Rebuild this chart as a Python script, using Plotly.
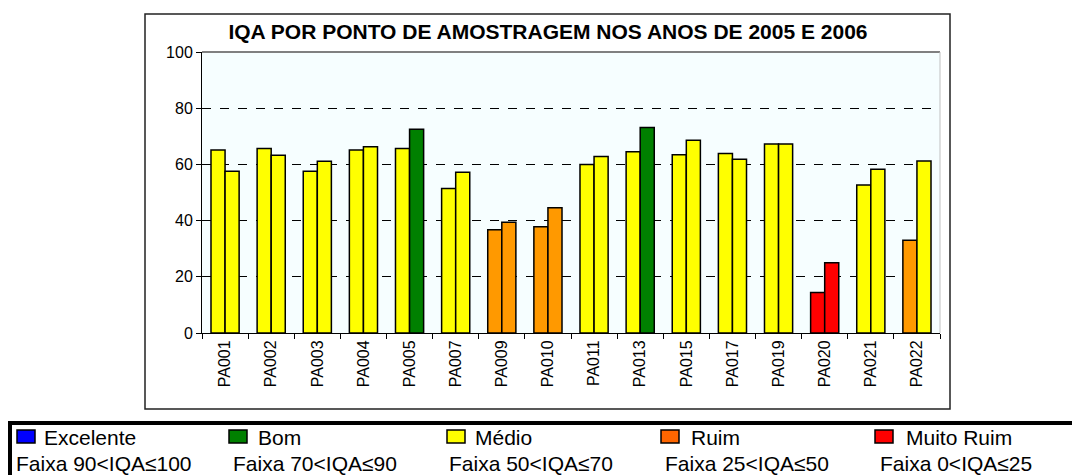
import plotly.graph_objects as go

pontos = ['PA001', 'PA002', 'PA003', 'PA004', 'PA005', 'PA007', 'PA009', 'PA010',
          'PA011', 'PA013', 'PA015', 'PA017', 'PA019', 'PA020', 'PA021', 'PA022']
iqa_2005 = [65.1, 65.7, 57.6, 65.1, 65.7, 51.4, 36.7, 37.8,
            60.0, 64.5, 63.4, 63.9, 67.3, 14.4, 52.7, 33.0]
iqa_2006 = [57.6, 63.3, 61.1, 66.3, 72.5, 57.2, 39.4, 44.6,
            62.8, 73.1, 68.6, 61.8, 67.3, 25.0, 58.3, 61.2]

faixas = ['Excelente', 'Bom', 'Médio', 'Ruim', 'Muito Ruim']
faixas_txt = ['Faixa 90<IQA≤100', 'Faixa 70<IQA≤90', 'Faixa 50<IQA≤70',
              'Faixa 25<IQA≤50', 'Faixa 0<IQA≤25']
legend_colors = ['#0000FF', '#008000', '#FFFF00', '#FF6600', '#FF0000']


def cor_iqa(v):
    if v > 90:
        return '#0000FF'
    elif v > 70:
        return '#008000'
    elif v > 50:
        return '#FFFF00'
    elif v > 25:
        return '#FF9900'
    return '#FF0000'


fig = go.Figure()
for nome, vals in [('2005', iqa_2005), ('2006', iqa_2006)]:
    fig.add_trace(go.Bar(
        x=pontos, y=vals, name=nome,
        marker=dict(color=[cor_iqa(v) for v in vals], line=dict(color='black', width=1.5)),
    ))

# page has 8px body margin -> work in window pixels, figure starts at (8, 8)
OFF = 8
W, H = 1080 - OFF, 475 - OFF
L, R, T, B = 202, 940, 52, 333  # plot area in window pixels

fig.update_layout(
    width=W, height=H,
    margin=dict(l=L - OFF, r=W + OFF - R, t=T - OFF, b=H + OFF - B),
    paper_bgcolor='white',
    plot_bgcolor='#F6FEFF',
    barmode='group',
    bargap=0.39,
    bargroupgap=0,
    showlegend=False,
    font=dict(family='Arial, Liberation Sans', color='black'),
    title=dict(text='<b>IQA POR PONTO DE AMOSTRAGEM NOS ANOS DE 2005 E 2006</b>',
               x=(548 - OFF) / W, xanchor='center', y=1 - (32 - OFF) / H, yanchor='middle',
               font=dict(size=21, color='black')),
    xaxis=dict(
        type='category', tickangle=-90, tickson='boundaries',
        ticks='outside', ticklen=5, tickcolor='black',
        showline=True, linecolor='black', linewidth=1,
        showgrid=False, tickfont=dict(size=16),
    ),
    yaxis=dict(
        range=[0, 100], tickvals=[0, 20, 40, 60, 80, 100],
        ticks='outside', ticklen=5, tickcolor='black',
        showline=True, linecolor='black', linewidth=1,
        showgrid=True, gridcolor='black', griddash='dash', gridwidth=1,
        zeroline=False, tickfont=dict(size=16),
    ),
)


def px(x):
    return (x - L) / (R - L)


def py(y):
    return (B - y) / (B - T)


shapes = []
# top and right edge of plot area (grey)
shapes.append(dict(type='line', xref='paper', yref='paper', x0=0, x1=1, y0=1, y1=1,
                   line=dict(color='#808080', width=2)))
shapes.append(dict(type='line', xref='paper', yref='paper', x0=1, x1=1, y0=0, y1=1,
                   line=dict(color='#C0C0C0', width=1)))
# chart border
shapes.append(dict(type='rect', xref='paper', yref='paper',
                   x0=px(145), x1=px(950), y0=py(409), y1=py(14),
                   line=dict(color='#222222', width=1.5), layer='below'))
# legend box
shapes.append(dict(type='rect', xref='paper', yref='paper',
                   x0=px(10), x1=px(1090), y0=py(490), y1=py(423),
                   line=dict(color='black', width=4)))

col_sq = [17, 229, 447, 661, 875]
col_lbl = [42, 256, 473, 689, 904]
col_txt = [14, 231, 447, 663, 878]
anns = []
for i, nome in enumerate(faixas):
    shapes.append(dict(type='rect', xref='paper', yref='paper',
                       x0=px(col_sq[i]), x1=px(col_sq[i] + 18),
                       y0=py(443), y1=py(430),
                       fillcolor=legend_colors[i], line=dict(color='black', width=1.5)))
    anns.append(dict(text=nome, xref='paper', yref='paper', x=px(col_lbl[i]), y=py(437),
                     xanchor='left', yanchor='middle', showarrow=False,
                     font=dict(size=21, color='black')))
    anns.append(dict(text=faixas_txt[i], xref='paper', yref='paper', x=px(col_txt[i]), y=py(463),
                     xanchor='left', yanchor='middle', showarrow=False,
                     font=dict(size=21, color='black')))

fig.update_layout(shapes=shapes, annotations=anns)
fig.write_html('out.html')
